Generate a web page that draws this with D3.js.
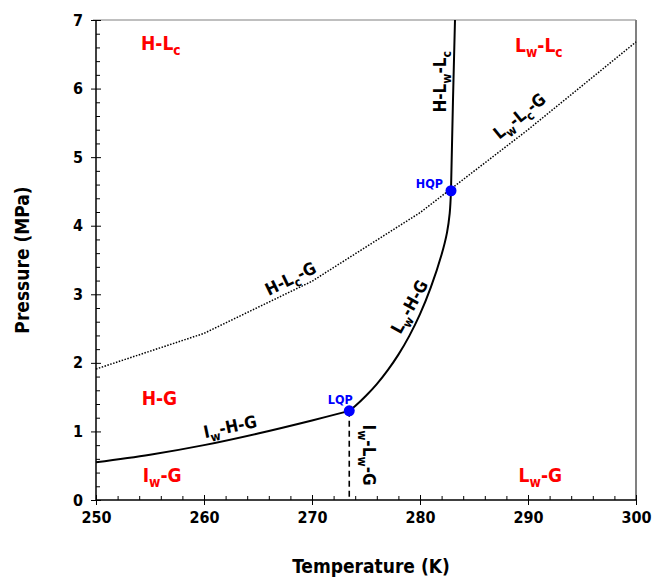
<!DOCTYPE html>
<html>
<head>
<meta charset="utf-8">
<script src="https://cdn.jsdelivr.net/npm/d3@7"></script>
<style>
  body { margin: 0; background: #fff; }
  svg { display: block; }
</style>
</head>
<body>
<svg id="chart" width="655" height="577"></svg>
<script>
// Phase diagram of the CO2 hydrate system: temperature (K) vs pressure (MPa)

const tempTicks = [250, 260, 270, 280, 290, 300];
const pressTicks = [0, 1, 2, 3, 4, 5, 6, 7];

// Ice - hydrate - gas equilibrium (below the lower quadruple point)
const iceHydrateGas = [[250, 0.55], [255, 0.66], [260, 0.80], [265, 0.97], [270, 1.16], [273.45, 1.30]];
// Liquid water - hydrate - gas equilibrium (between the quadruple points)
const waterHydrateGas = [[273.45, 1.30], [274, 1.37], [275, 1.52], [276, 1.69], [277, 1.89], [278, 2.12],
  [279, 2.39], [280, 2.71], [281, 3.10], [282, 3.58], [282.5, 3.90], [282.75, 4.18], [282.87, 4.51]];
// Hydrate - liquid water - liquid CO2 (above the upper quadruple point)
const hydrateWaterLiquidCO2 = [[282.87, 4.51], [283.05, 5.8], [283.24, 7.0]];
// CO2 liquid-vapour line
const co2VapourLine = [[250, 1.91], [260, 2.43], [270, 3.19], [280, 4.19], [290, 5.40], [300, 6.68]];
// Ice - liquid water - gas (vertical line below LQP)
const iceWaterGas = [[273.45, 1.30], [273.45, 0]];

const quadPoints = [
  { name: "HQP", T: 282.87, P: 4.51 },
  { name: "LQP", T: 273.45, P: 1.30 }
];

// Region names [text, subscript?] pieces
const regionLabels = [
  { parts: [["H-L"], ["c", 1]], T: 254.17, P: 6.56 },
  { parts: [["L"], ["w", 1], ["-L"], ["c", 1]], T: 288.8, P: 6.54 },
  { parts: [["H-G"]], T: 254.23, P: 1.385 },
  { parts: [["I"], ["w", 1], ["-G"]], T: 254.32, P: 0.262 },
  { parts: [["L"], ["w", 1], ["-G"]], T: 289.13, P: 0.262 }
];

// Curve names placed along the equilibrium lines
const curveLabels = [
  { parts: [["H-L"], ["w", 1], ["-L"], ["c", 1]], T: 281.85, P: 6.10, angle: -90 },
  { parts: [["L"], ["w", 1], ["-L"], ["c", 1], ["-G"]], T: 289.2, P: 5.60, angle: -39 },
  { parts: [["H-L"], ["c", 1], ["-G"]], T: 268.0, P: 3.23, angle: -26 },
  { parts: [["L"], ["w", 1], ["-H-G"]], T: 279.0, P: 2.82, angle: -61 },
  { parts: [["I"], ["w", 1], ["-H-G"]], T: 262.41, P: 1.07, angle: -12 },
  { parts: [["I"], ["w", 1], ["-L"], ["w", 1], ["-G"]], T: 275.28, P: 0.656, angle: 90 }
];

const FONT = "'DejaVu Sans Condensed','DejaVu Sans',sans-serif";

const svg = d3.select("#chart");
const x = d3.scaleLinear().domain([250, 300]).range([96, 636]);
const y = d3.scaleLinear().domain([0, 7]).range([500, 20]);

// frame: grey top and right edges
svg.append("line").attr("x1", 93).attr("x2", x(300)).attr("y1", y(7)).attr("y2", y(7))
  .attr("stroke", "#808080").attr("stroke-width", 1.2);
svg.append("line").attr("x1", x(300)).attr("x2", x(300)).attr("y1", y(7)).attr("y2", y(0))
  .attr("stroke", "#808080").attr("stroke-width", 2);

// minor ticks (inside)
const minorT = d3.range(250, 300.01, 2).filter(v => !tempTicks.includes(v));
const minorP = d3.range(0, 7.01, 0.2).map(v => +v.toFixed(1)).filter(v => !pressTicks.includes(v));

function styleAxis(g) {
  g.select(".domain").remove();
  g.selectAll(".tick line").attr("stroke", "#000").attr("stroke-width", 1);
}

svg.append("g").attr("transform", `translate(0,${y(0)})`)
  .call(d3.axisBottom(x).tickValues(minorT).tickSize(-4).tickFormat(""))
  .call(styleAxis);
svg.append("g").attr("transform", `translate(${x(250)},0)`)
  .call(d3.axisLeft(y).tickValues(minorP).tickSize(-4).tickFormat(""))
  .call(styleAxis);

// major ticks: crossing the axis lines
svg.append("g").attr("transform", `translate(0,${y(0)})`)
  .call(d3.axisBottom(x).tickValues(tempTicks).tickSize(-5).tickFormat(""))
  .call(styleAxis);
const xAxis = svg.append("g").attr("transform", `translate(0,${y(0)})`)
  .call(d3.axisBottom(x).tickValues(tempTicks).tickSize(5).tickPadding(7).tickFormat(d3.format("d")))
  .call(styleAxis);
svg.append("g").attr("transform", `translate(${x(250)},0)`)
  .call(d3.axisLeft(y).tickValues(pressTicks).tickSize(-5).tickFormat(""))
  .call(styleAxis);
const yAxis = svg.append("g").attr("transform", `translate(${x(250)},0)`)
  .call(d3.axisLeft(y).tickValues(pressTicks).tickSize(5).tickPadding(8).tickFormat(d3.format("d")))
  .call(styleAxis);

[xAxis, yAxis].forEach(g => g.selectAll(".tick text")
  .attr("font-family", FONT).attr("font-size", 16).attr("font-weight", "bold").attr("fill", "#000"));

// axis lines
svg.append("line").attr("x1", x(250)).attr("x2", x(300)).attr("y1", y(0)).attr("y2", y(0))
  .attr("stroke", "#000").attr("stroke-width", 1.5);
svg.append("line").attr("x1", x(250)).attr("x2", x(250)).attr("y1", y(0)).attr("y2", y(7))
  .attr("stroke", "#000").attr("stroke-width", 1.5);

// axis titles
svg.append("text").attr("x", 371).attr("y", 573).attr("text-anchor", "middle")
  .attr("font-family", FONT).attr("font-size", 19).attr("font-weight", "bold").text("Temperature (K)");
svg.append("text").attr("transform", `translate(29,260) rotate(-90)`).attr("text-anchor", "middle")
  .attr("font-family", FONT).attr("font-size", 19).attr("font-weight", "bold").text("Pressure (MPa)");

// equilibrium lines
const line = d3.line().x(d => x(d[0])).y(d => y(d[1]));
const smooth = d3.line().x(d => x(d[0])).y(d => y(d[1])).curve(d3.curveCatmullRom.alpha(0.5));

svg.append("path").datum(co2VapourLine).attr("d", line)
  .attr("fill", "none").attr("stroke", "#000").attr("stroke-width", 1.5).attr("stroke-dasharray", "1.5,1.5");
svg.append("path").datum(iceWaterGas).attr("d", line)
  .attr("fill", "none").attr("stroke", "#000").attr("stroke-width", 1.6).attr("stroke-dasharray", "6,4");
svg.append("path").datum(iceHydrateGas).attr("d", smooth)
  .attr("fill", "none").attr("stroke", "#000").attr("stroke-width", 2);
svg.append("path").datum(waterHydrateGas).attr("d", smooth)
  .attr("fill", "none").attr("stroke", "#000").attr("stroke-width", 2);
svg.append("path").datum(hydrateWaterLiquidCO2).attr("d", line)
  .attr("fill", "none").attr("stroke", "#000").attr("stroke-width", 2);

// rich text with subscripts
function richText(sel, parts, size) {
  let sub = false;
  parts.forEach(([txt, isSub]) => {
    const t = sel.append("tspan").text(txt);
    if (isSub && !sub) { t.attr("dy", size * 0.28).attr("font-size", size * 0.72); sub = true; }
    else if (isSub) { t.attr("font-size", size * 0.72); }
    else if (sub) { t.attr("dy", -size * 0.28); sub = false; }
  });
}

regionLabels.forEach(d => {
  const t = svg.append("text").attr("x", x(d.T)).attr("y", y(d.P))
    .attr("font-family", FONT).attr("font-size", 19).attr("font-weight", "bold").attr("fill", "#ff0000");
  richText(t, d.parts, 19);
});

curveLabels.forEach(d => {
  const t = svg.append("text")
    .attr("transform", `translate(${x(d.T)},${y(d.P)}) rotate(${d.angle})`)
    .attr("text-anchor", "middle").attr("dy", "0.36em")
    .attr("font-family", FONT).attr("font-size", 17).attr("font-weight", "bold").attr("fill", "#000");
  richText(t, d.parts, 17);
});

// quadruple points
svg.selectAll("circle.qp").data(quadPoints).join("circle").attr("class", "qp")
  .attr("cx", d => x(d.T)).attr("cy", d => y(d.P)).attr("r", 5.5).attr("fill", "#0000ff");
svg.append("text").attr("x", x(quadPoints[0].T) - 8).attr("y", y(quadPoints[0].P) - 3)
  .attr("text-anchor", "end").attr("font-family", FONT).attr("font-size", 12.5).attr("font-weight", "bold")
  .attr("fill", "#0000ff").text(quadPoints[0].name);
svg.append("text").attr("x", x(quadPoints[1].T) - 9).attr("y", y(quadPoints[1].P) - 7)
  .attr("text-anchor", "middle").attr("font-family", FONT).attr("font-size", 12.5).attr("font-weight", "bold")
  .attr("fill", "#0000ff").text(quadPoints[1].name);
</script>
</body>
</html>
